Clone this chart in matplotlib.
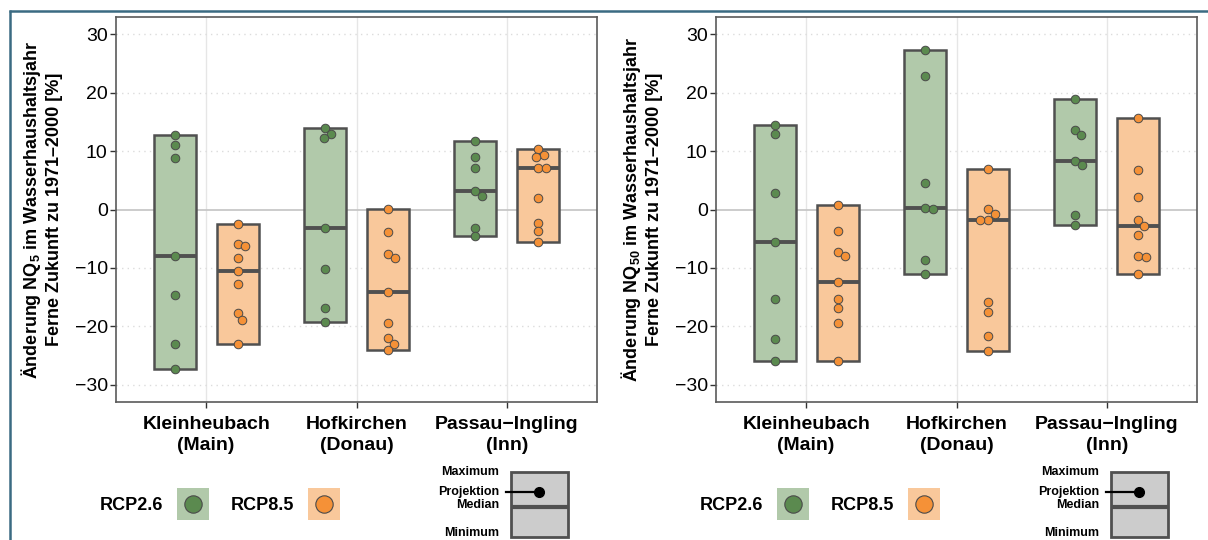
import numpy as np
import matplotlib
matplotlib.use('Agg')
import matplotlib.pyplot as plt
from matplotlib.patches import Rectangle
from matplotlib.lines import Line2D

plt.rcParams['font.family'] = ['Liberation Sans', 'DejaVu Sans']
plt.rcParams['mathtext.fontset'] = 'custom'
plt.rcParams['mathtext.rm'] = 'Liberation Sans'
plt.rcParams['mathtext.bf'] = 'Liberation Sans:bold'

stations = ['Kleinheubach\n(Main)', 'Hofkirchen\n(Donau)', 'Passau\u2212Ingling\n(Inn)']
scenarios = ['RCP2.6', 'RCP8.5']

# NQ5, values per station
nq5_rcp26 = [
    [12.7, 11.0, 8.8, -7.9, -14.7, -23.0, -27.4],
    [13.9, 13.0, 12.2, -3.1, -10.2, -16.8, -19.3],
    [11.8, 9.0, 7.2, 3.1, 2.4, -3.1, -4.5],
]
nq5_rcp85 = [
    [-2.5, -5.9, -6.3, -8.3, -10.5, -12.7, -17.7, -18.9, -23.1],
    [0.05, -3.8, -7.6, -8.3, -14.1, -19.5, -22.0, -23.0, -24.1],
    [10.3, 9.4, 9.0, 7.2, 7.1, 1.9, -2.3, -3.7, -5.5],
]

# NQ50
nq50_rcp26 = [
    [14.5, 12.9, 2.9, -5.5, -15.3, -22.2, -26.0],
    [27.4, 22.9, 4.5, 0.2, 0.1, -8.7, -11.0],
    [19.0, 13.6, 12.7, 8.3, 7.7, -1.0, -2.6],
]
nq50_rcp85 = [
    [0.7, -3.7, -7.3, -7.9, -12.4, -15.3, -16.9, -19.4, -26.0],
    [6.9, 0.05, -0.7, -1.8, -1.8, -15.8, -17.6, -21.6, -24.3],
    [15.7, 6.8, 2.1, -1.8, -2.8, -4.4, -7.9, -8.1, -11.0],
]

yticks = [-30, -20, -10, 0, 10, 20, 30]

fill_cols = ['#b1c9aa', '#f9c89b']
dot_cols = ['#5b8a4f', '#f59137']
edge_col = '#505050'

W, H = 1208, 540
fig = plt.figure(figsize=(W / 100, H / 100), dpi=100)
fig.patch.set_facecolor('white')


def swarm_offsets(vals, ax, d_px):
    p0 = ax.transData.transform((0, 0))
    p1 = ax.transData.transform((1, 1))
    sx, sy = p1[0] - p0[0], p1[1] - p0[1]
    placed = []
    offs = []
    for v in vals:
        y = v * sy
        cands = [0.0]
        for px, py in placed:
            dy = abs(y - py)
            if dy < d_px:
                dx = np.sqrt(d_px ** 2 - dy ** 2)
                cands += [px + dx, px - dx]
        cands.sort(key=lambda c: (round(abs(c), 6), -c))
        for c in cands:
            if all((c - px) ** 2 + (y - py) ** 2 >= d_px ** 2 - 1e-6 for px, py in placed):
                break
        placed.append((c, y))
        offs.append(c / sx)
    return offs


def draw_panel(ax, data26, data85, sub):
    ax.set_xlim(0.4, 3.6)
    ax.set_ylim(-33, 33)
    for x in range(1, 4):
        ax.axvline(x, color='#e6e6e6', lw=1, zorder=0)
    for t in yticks:
        if t == 0:
            ax.axhline(0, color='#c8c8c8', lw=1.3, zorder=0)
        else:
            ax.axhline(t, color='#dcdcdc', lw=1, ls=(0, (1, 3)), zorder=0)

    for k, data in enumerate([data26, data85]):
        off = -0.21 if k == 0 else 0.21
        for i, vals in enumerate(data):
            xc = i + 1 + off
            vals = np.array(vals)
            lo, hi, med = vals.min(), vals.max(), np.median(vals)
            ax.add_patch(Rectangle((xc - 0.14, lo), 0.28, hi - lo, facecolor=fill_cols[k],
                                   edgecolor=edge_col, lw=1.8, zorder=2))
            ax.plot([xc - 0.14, xc + 0.14], [med, med], color=edge_col, lw=2.8,
                    solid_capstyle='butt', zorder=3)
            order = np.sort(vals)[::-1]
            dx = swarm_offsets(order, ax, 8.0)
            ax.scatter(xc + np.array(dx), order, s=38, color=dot_cols[k],
                       edgecolor='#4a4a4a', linewidth=0.7, zorder=4)

    ax.set_xticks([1, 2, 3])
    ax.set_xticklabels(stations, fontsize=14, fontweight='bold', linespacing=1.35)
    ax.set_yticks(yticks)
    ax.set_yticklabels([str(t).replace('-', '\u2212') for t in yticks], fontsize=14)
    ax.tick_params(length=4, width=1, color='#333333', pad=2)
    ax.tick_params(axis='x', pad=6)
    for s in ax.spines.values():
        s.set_color('#5a5a5a')
        s.set_linewidth(1.2)
    ax.set_ylabel('\u00c4nderung NQ$_{\\mathbf{' + sub + '}}$ im Wasserhaushaltsjahr\n'
                  'Ferne Zukunft zu 1971\u20132000 [%]',
                  fontsize=13, fontweight='bold', linespacing=1.25, labelpad=8)


ax1 = fig.add_axes([116 / W, 138 / H, 481 / W, 385 / H])
ax2 = fig.add_axes([716 / W, 138 / H, 481 / W, 385 / H])
draw_panel(ax1, nq5_rcp26, nq5_rcp85, '5')
draw_panel(ax2, nq50_rcp26, nq50_rcp85, '50')

# legend / overlay in pixel coordinates
lg = fig.add_axes([0, 0, 1, 1], zorder=5)
lg.set_xlim(0, W)
lg.set_ylim(H, 0)
lg.axis('off')
lg.patch.set_alpha(0)

frame_col = '#3b6b82'
lg.add_line(Line2D([9, W + 5], [11, 11], color=frame_col, lw=1.8, solid_capstyle='butt'))
lg.add_line(Line2D([10, 10], [10, H + 5], color=frame_col, lw=1.8, solid_capstyle='butt'))

for base in [116, 716]:
    for k, (txt_r, sq_l) in enumerate([(47, 61), (178, 192)]):
        lg.text(base + txt_r, 505, scenarios[k], ha='right', va='center',
                fontsize=13, fontweight='bold')
        lg.add_patch(Rectangle((base + sq_l, 488), 32, 32, facecolor=fill_cols[k],
                               edgecolor='none'))
        lg.plot(base + sq_l + 16, 504, 'o', ms=12.5, color=dot_cols[k],
                mec='#4a4a4a', mew=0.8)
    # box key
    lg.add_patch(Rectangle((base + 395, 472), 57, 65, facecolor='#cccccc',
                           edgecolor=edge_col, lw=2))
    lg.plot([base + 395, base + 452], [507, 507], color=edge_col, lw=3,
            solid_capstyle='butt')
    lg.plot([base + 390, base + 418], [492, 492], color='black', lw=1.6)
    lg.plot(base + 423, 492, 'o', ms=7, color='black')
    for lab, yy in [('Maximum', 472), ('Projektion', 492), ('Median', 505),
                    ('Minimum', 533)]:
        lg.text(base + 383, yy, lab, ha='right', va='center', fontsize=9,
                fontweight='bold')

fig.savefig('out.png', dpi=100, facecolor='white')
